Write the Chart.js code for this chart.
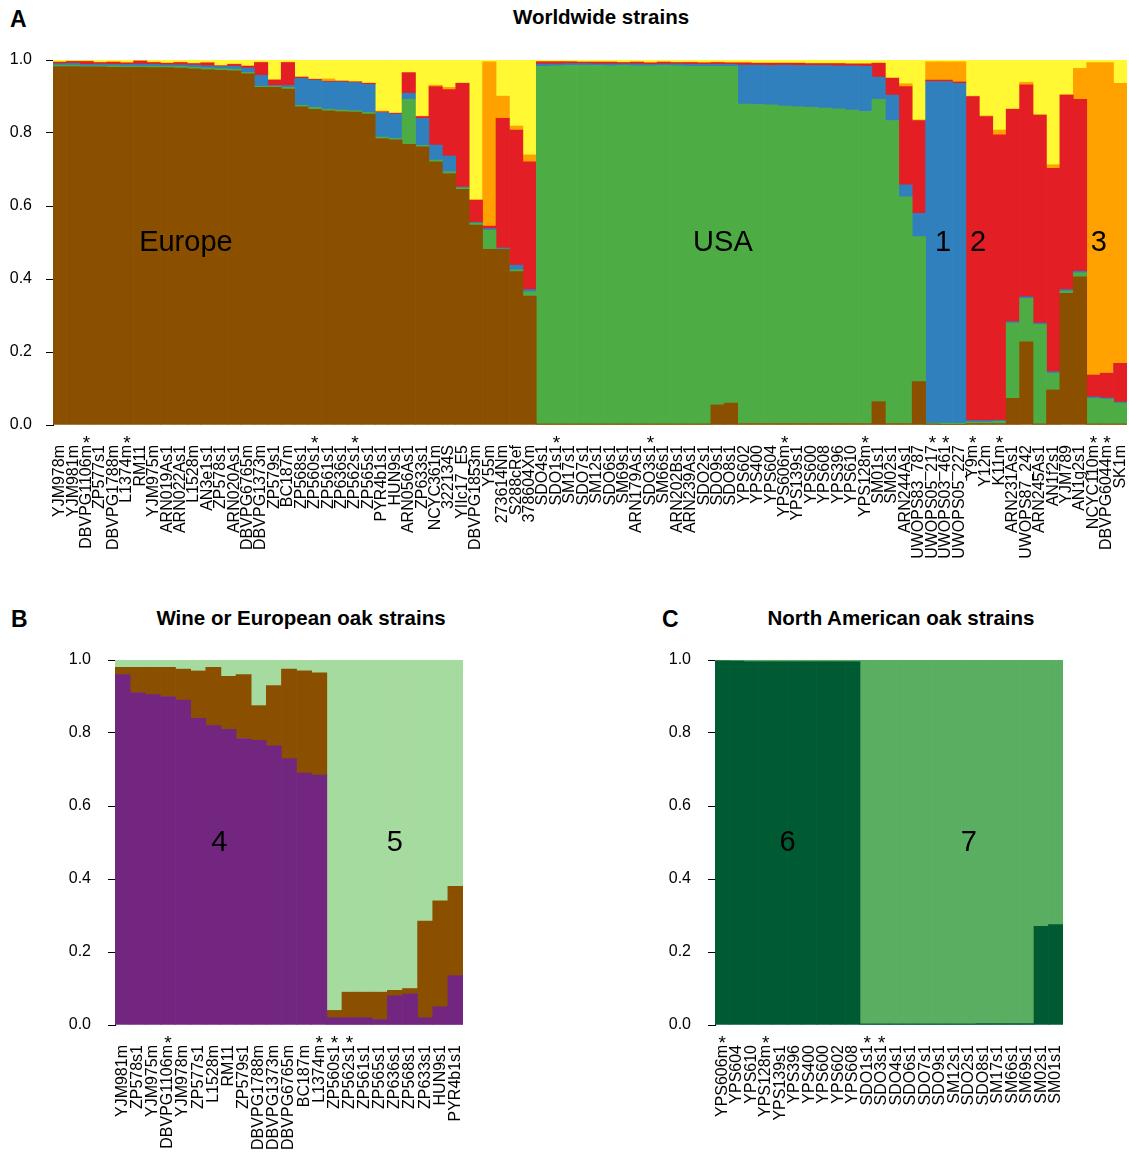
<!DOCTYPE html>
<html>
<head>
<meta charset="utf-8">
<script src="https://cdn.jsdelivr.net/npm/chart.js@4.4.0/dist/chart.umd.min.js"></script>
<style>
body { margin: 0; background: #fff; width: 1129px; height: 1164px; position: relative; overflow: hidden;
       font-family: "Liberation Sans", Arial, sans-serif; }
canvas { position: absolute; }
.title { position: absolute; font-weight: bold; font-size: 20.5px; transform: translateX(-50%); white-space: nowrap; }
.panel { position: absolute; font-weight: bold; font-size: 23px; }
</style>
</head>
<body>
<div class="panel" style="left:10px;top:6px">A</div>
<div class="title" style="left:601px;top:5px">Worldwide strains</div>
<div class="panel" style="left:11px;top:606px">B</div>
<div class="title" style="left:301px;top:606px">Wine or European oak strains</div>
<div class="panel" style="left:662px;top:606px">C</div>
<div class="title" style="left:901px;top:606px">North American oak strains</div>

<canvas id="chartA" width="1129" height="530" style="left:0;top:40px"></canvas>
<canvas id="chartB" width="405" height="534" style="left:60px;top:630px"></canvas>
<canvas id="chartC" width="405" height="534" style="left:660px;top:630px"></canvas>

<script>
// ================= DATA =================
// Panel A: worldwide strains (ancestry proportions, bottom to top)
const strainsA = ["YJM978m","YJM981m","DBVPG1106m","ZP577s1","DBVPG1788m","L1374m","RM11","YJM975m",
  "ARN019As1","ARN022As1","L1528m","AN3e1s1","ZP578s1","ARN020As1","DBVPG6765m","DBVPG1373m","ZP579s1",
  "BC187m","ZP568s1","ZP560s1","ZP561s1","ZP636s1","ZP562s1","ZP565s1","PYR4b1s1","HUN9s1","ARN056As1",
  "ZP633s1","NCYC361m","322134S","YIIc17_E5","DBVPG1853m","Y55m","273614Nm","S288cRef","378604Xm",
  "SDO4s1","SDO1s1","SM17s1","SDO7s1","SM12s1","SDO6s1","SM69s1","ARN179As1","SDO3s1","SM66s1",
  "ARN202Bs1","ARN239As1","SDO2s1","SDO9s1","SDO8s1","YPS602","YPS400","YPS604","YPS606m","YPS139s1",
  "YPS600","YPS608","YPS396","YPS610","YPS128m","SM01s1","SM02s1","ARN244As1","UWOPS83_787",
  "UWOPS05_217","UWOPS03_461","UWOPS05_227","Y9m","Y12m","K11m","ARN231As1","UWOPS87_242","ARN245As1",
  "AN1f2s1","YJM789","AN1g2s1","NCYC110m","DBVPG6044m","SK1m"];
const starsA = ["DBVPG1106m","L1374m","ZP560s1","ZP562s1","SDO1s1","SDO3s1","YPS606m","YPS128m",
  "UWOPS05_217","UWOPS03_461","Y9m","K11m","NCYC110m","DBVPG6044m"];

const brownA = [.982,.982,.981,.981,.980,.980,.980,.979,.979,.978,
  .976,.974,.972,.970,.962,.925,.925,.920,.872,.865,
  .861,.859,.857,.852,.785,.781,.769,.762,.721,.689,
  .646,.548,.481,.481,.420,.353,.003,.003,.003,.003,
  .003,.003,.003,.003,.003,.003,.003,.003,.003,.055,
  .060,.004,.004,.004,.004,.004,.004,.004,.004,.004,
  .004,.064,.004,.004,.119,.003,.002,.002,.004,.004,
  .004,.073,.228,.003,.096,.361,.406,.003,.003,.003];
const greenA = [.004,.004,.003,.003,.004,.003,.003,.004,.003,.004,
  .004,.004,.004,.005,.004,.003,.003,.005,.004,.005,
  .004,.004,.004,.004,.004,.004,.123,.004,.005,.005,
  .004,.005,.053,.001,.005,.012,.980,.981,.982,.982,
  .982,.981,.982,.981,.981,.982,.981,.980,.980,.928,
  .923,.875,.874,.873,.870,.868,.866,.864,.862,.859,
  .855,.828,.830,.621,.397,.002,.003,.003,.004,.004,
  .006,.206,.119,.272,.046,.006,.011,.070,.068,.057];
const blueA = [.004,.005,.004,.005,.004,.005,.006,.005,.005,.005,
  .006,.006,.006,.008,.012,.030,.002,.005,.074,.075,
  .075,.077,.077,.077,.067,.067,.017,.074,.041,.043,
  .002,.002,.004,.003,.013,.006,.006,.005,.005,.005,
  .004,.005,.004,.005,.004,.004,.005,.005,.005,.005,
  .005,.107,.108,.108,.112,.113,.115,.117,.118,.121,
  .124,.061,.070,.033,.064,.936,.936,.931,.004,.004,
  .003,.004,.004,.004,.004,.004,.004,.004,.003,.003];
const redA = [.004,.005,.008,.004,.006,.004,.008,.005,.004,.006,
  .004,.008,.002,.005,.005,.035,.015,.063,.003,.002,
  .002,.002,.002,.003,.002,.002,.056,.005,.160,.182,
  .284,.061,.007,.355,.370,.350,.006,.006,.005,.004,
  .005,.005,.004,.005,.004,.005,.004,.005,.004,.005,
  .004,.006,.005,.006,.005,.006,.005,.005,.006,.005,
  .006,.038,.046,.269,.254,.004,.004,.004,.888,.833,
  .782,.582,.581,.570,.557,.533,.471,.060,.068,.106];
const orangeA = [.001,.001,.001,.001,.001,.001,.001,.001,.001,.001,
  .001,.001,.001,.001,.001,.001,.001,.001,.001,.001,
  .006,.001,.001,.001,.002,.001,.001,.001,.004,.006,
  .001,.001,.450,.061,.011,.019,.001,.001,.001,.001,
  .001,.001,.001,.001,.001,.001,.001,.001,.001,.001,
  .001,.001,.001,.001,.001,.001,.001,.001,.001,.001,
  .001,.001,.001,.008,.002,.050,.050,.055,.001,.002,
  .013,.001,.007,.001,.010,.001,.085,.856,.851,.767];
const yellowA = [.005,.003,.003,.006,.005,.007,.002,.006,.008,.006,
  .009,.007,.015,.011,.016,.006,.054,.006,.046,.052,
  .052,.057,.059,.063,.140,.145,.034,.154,.069,.075,
  .063,.383,.005,.099,.181,.260,.004,.004,.004,.005,
  .005,.005,.006,.005,.007,.005,.006,.006,.007,.006,
  .007,.007,.008,.008,.008,.008,.009,.009,.009,.010,
  .010,.008,.049,.065,.164,.005,.005,.005,.099,.153,
  .192,.134,.061,.150,.287,.095,.023,.007,.007,.064];

// Panel B: wine or European oak strains
const strainsB = ["YJM981m","ZP578s1","YJM975m","DBVPG1106m","YJM978m","ZP577s1","L1528m","RM11",
  "ZP579s1","DBVPG1788m","DBVPG1373m","DBVPG6765m","BC187m","L1374m","ZP560s1","ZP562s1","ZP561s1",
  "ZP565s1","ZP636s1","ZP568s1","ZP633s1","HUN9s1","PYR4b1s1"];
const starsB = ["DBVPG1106m","L1374m","ZP560s1","ZP562s1"];
const purpleB = [.960,.910,.905,.900,.890,.840,.820,.810,.785,.780,.765,.730,.690,.685,
  .020,.020,.020,.015,.080,.085,.020,.050,.135];
const brownB = [.020,.070,.075,.080,.085,.130,.160,.145,.175,.095,.165,.245,.280,.280,
  .020,.070,.070,.075,.015,.015,.265,.290,.245];
const paleB = [.020,.020,.020,.020,.025,.030,.020,.045,.040,.125,.070,.025,.030,.035,
  .960,.910,.910,.910,.905,.900,.715,.660,.620];

// Panel C: North American oak strains
const strainsC = ["YPS606m","YPS604","YPS610","YPS128m","YPS139s1","YPS396","YPS400","YPS600",
  "YPS602","YPS608","SDO1s1","SDO3s1","SDO4s1","SDO6s1","SDO7s1","SDO9s1","SM12s1","SDO2s1",
  "SDO8s1","SM17s1","SM66s1","SM69s1","SM02s1","SM01s1"];
const starsC = ["YPS606m","YPS128m","SDO1s1","SDO3s1"];
const darkC = [.998,.997,.996,.996,.996,.996,.996,.996,.996,.996,
  .003,.003,.003,.003,.003,.003,.003,.003,.004,.004,.004,.004,.270,.275];
const lightC = [.002,.003,.004,.004,.004,.004,.004,.004,.004,.004,
  .997,.997,.997,.997,.997,.997,.997,.997,.996,.996,.996,.996,.730,.725];

// ================= DRAWING =================
const FONT = '"Liberation Sans", Arial, sans-serif';

function drawPanel(id, labels, series, stars, notes, yWidth, xHeight, padTop, yPad) {
  const marks = {
    id: "marks",
    afterDraw(chart) {
      const ctx = chart.ctx;
      const xs = chart.scales.x, ys = chart.scales.y;
      ctx.save();
      ctx.fillStyle = "#000";
      ctx.textAlign = "center";
      ctx.textBaseline = "middle";
      ctx.font = "29px " + FONT;
      notes.forEach(n => ctx.fillText(n.text, xs.getPixelForValue(n.at), ys.getPixelForValue(n.y)));
      // asterisks above the starred strain names
      ctx.font = "19px " + FONT;
      ctx.textBaseline = "alphabetic";
      stars.forEach(s => {
        const i = labels.indexOf(s);
        ctx.fillText("*", xs.getPixelForTick(i), chart.chartArea.bottom + 24);
      });
      ctx.restore();
    }
  };

  return new Chart(document.getElementById(id), {
    type: "bar",
    data: {
      labels: labels,
      datasets: series.map(s => ({
        data: s.data,
        backgroundColor: s.color,
        borderWidth: 0,
        barPercentage: 1,
        categoryPercentage: 1
      }))
    },
    options: {
      responsive: false,
      animation: false,
      devicePixelRatio: 1,
      layout: { padding: { top: padTop, right: 2, left: 0, bottom: 0 } },
      plugins: { legend: { display: false }, tooltip: { enabled: false } },
      scales: {
        x: {
          stacked: true,
          grid: { display: false, drawTicks: false },
          border: { display: false },
          ticks: {
            autoSkip: false, minRotation: 90, maxRotation: 90, padding: 20,
            color: "#000", font: { family: FONT, size: 16 }
          },
          afterFit(scale) {
            scale.height = xHeight;
            scale.paddingLeft = 0;
            scale.paddingRight = 0;
          }
        },
        y: {
          stacked: true, min: 0, max: 1,
          grid: { display: true, drawOnChartArea: false, drawTicks: true, tickLength: 7, color: "#000" },
          border: { display: true, color: "#000", width: 1 },
          ticks: {
            stepSize: 0.2, padding: yPad, color: "#000", font: { family: FONT, size: 16 },
            callback: v => v.toFixed(1)
          },
          afterFit(scale) {
            scale.width = yWidth;
            scale.paddingTop = 0;
            scale.paddingBottom = 0;
          }
        }
      }
    },
    plugins: [marks]
  });
}

drawPanel("chartA", strainsA, [
  { data: brownA, color: "#8a5000" },
  { data: greenA, color: "#4eac45" },
  { data: blueA, color: "#3080bd" },
  { data: redA, color: "#e31e24" },
  { data: orangeA, color: "#ffa200" },
  { data: yellowA, color: "#fff833" }
], starsA, [
  { text: "Europe", at: 9.4, y: 0.5 },
  { text: "USA", at: 49.4, y: 0.5 },
  { text: "1", at: 65.8, y: 0.5 },
  { text: "2", at: 68.4, y: 0.5 },
  { text: "3", at: 77.4, y: 0.5 }
], 53, 145, 20, 14);

drawPanel("chartB", strainsB, [
  { data: purpleB, color: "#722680" },
  { data: brownB, color: "#8a5000" },
  { data: paleB, color: "#a6dba0" }
], starsB, [
  { text: "4", at: 6.4, y: 0.5 },
  { text: "5", at: 18.0, y: 0.5 }
], 55, 139, 30, 17);

drawPanel("chartC", strainsC, [
  { data: darkC, color: "#005a32" },
  { data: lightC, color: "#5aae61" }
], starsC, [
  { text: "6", at: 4.5, y: 0.5 },
  { text: "7", at: 17.0, y: 0.5 }
], 55, 139, 30, 17);
</script>
</body>
</html>
